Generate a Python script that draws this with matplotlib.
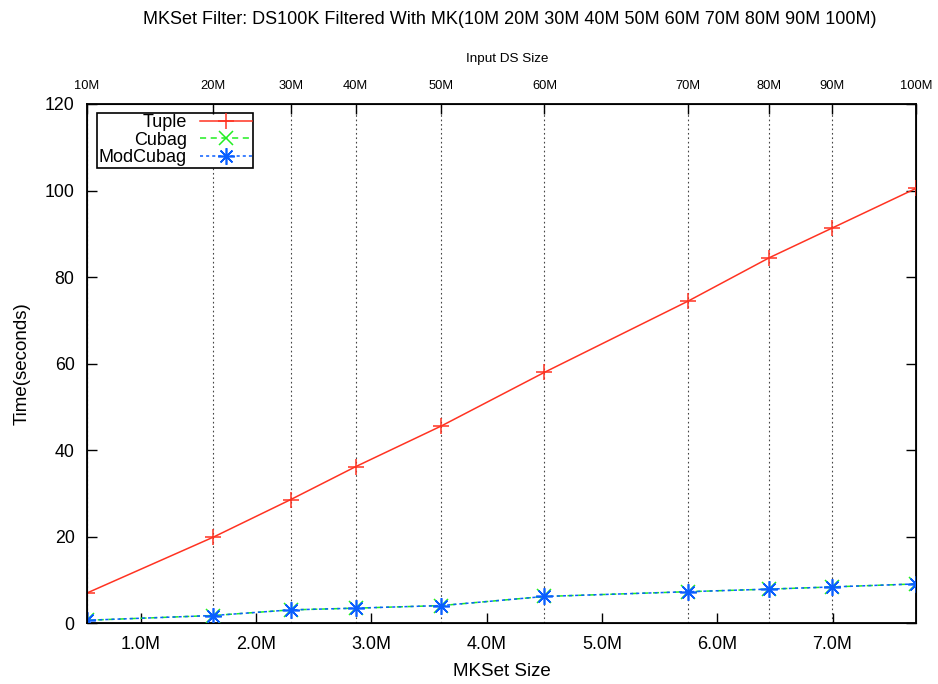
import matplotlib
matplotlib.use('Agg')
import matplotlib.pyplot as plt

plt.rcParams['font.family'] = ['Liberation Sans', 'DejaVu Sans']

# MKSet size (millions) for each input dataset size
mk_size = [0.532, 1.627, 2.300, 2.863, 3.606, 4.501, 5.743, 6.453, 6.994, 7.724]
ds_labels = ['10M', '20M', '30M', '40M', '50M', '60M', '70M', '80M', '90M', '100M']

tuple_time = [7.0, 19.9, 28.6, 36.2, 45.6, 58.0, 74.4, 84.5, 91.3, 100.5]
cubag_time = [0.7, 1.8, 3.1, 3.5, 4.1, 6.2, 7.3, 7.9, 8.4, 9.1]
modcubag_time = [0.7, 1.8, 3.1, 3.5, 4.1, 6.2, 7.3, 7.9, 8.4, 9.1]

W, H = 938, 684
fig = plt.figure(figsize=(W / 100, H / 100), dpi=100)
ax = fig.add_axes([87 / W, 1 - 623.3 / H, (916 - 87) / W, (623.3 - 104) / H])

# dotted guides at each input size
for x in mk_size:
    ax.axvline(x, color='#444444', lw=0.8, ls=(0, (1.5, 2.5)), zorder=1)

ax.plot(mk_size, tuple_time, color='#ff3322', lw=1.1, marker='+', ms=11,
        mew=1.1, label='Tuple', zorder=3)
ax.plot(mk_size, cubag_time, color='#22ee22', lw=1.1, ls=(0, (4, 3)),
        marker='x', ms=10, mew=1.1, label='Cubag', zorder=3)
ax.plot(mk_size, modcubag_time, color='#0a5fff', lw=1.1, ls=(0, (2, 2)),
        marker=(8, 2, 0), ms=12, mew=1.2, label='ModCubag', zorder=4)

ax.set_xlim(mk_size[0], mk_size[-1])
ax.set_ylim(0, 120)
ax.set_xticks([1, 2, 3, 4, 5, 6, 7])
ax.set_xticklabels(['%.1fM' % v for v in [1, 2, 3, 4, 5, 6, 7]])
ax.set_yticks(range(0, 121, 20))
ax.tick_params(axis='x', direction='in', length=7, width=1, labelsize=13, pad=9)
ax.tick_params(axis='y', direction='in', length=7, width=1, labelsize=12.8, pad=9,
               right=True)
for s in ax.spines.values():
    s.set_linewidth(1.3)

ax2 = ax.twiny()
ax2.set_xlim(ax.get_xlim())
ax2.set_xticks(mk_size)
ax2.set_xticklabels(ds_labels)
ax2.tick_params(axis='x', direction='in', length=7, width=1, labelsize=9.3, pad=9)

ax.set_xlabel('MKSet Size', fontsize=13.5, labelpad=7)
ax.set_ylabel('Time(seconds)', fontsize=13.5, labelpad=10)

leg = ax.legend(loc='upper left', bbox_to_anchor=(0.0125, 0.9827), borderaxespad=0,
                markerfirst=False, fancybox=False, framealpha=1, edgecolor='black',
                fontsize=13, handlelength=2.9, handletextpad=0.7,
                labelspacing=0.02, borderpad=0.08)
leg.get_frame().set_linewidth(1.2)

fig.text(507 / W, 1 - 59 / H, 'Input DS Size', ha='center', va='center', fontsize=9.7)
fig.text(510 / W, 1 - 20 / H,
         'MKSet Filter: DS100K Filtered With MK(10M 20M 30M 40M 50M 60M 70M 80M 90M 100M)',
         ha='center', va='center', fontsize=13)

fig.savefig('out.png', dpi=100)
